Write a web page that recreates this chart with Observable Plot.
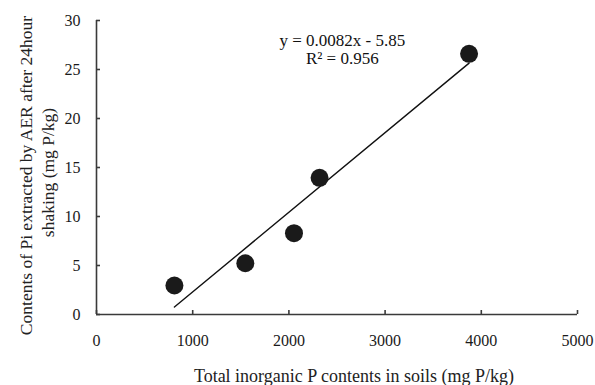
<!DOCTYPE html>
<html>
<head>
<meta charset="utf-8">
<script src="https://cdn.jsdelivr.net/npm/d3@7"></script>
<script src="https://cdn.jsdelivr.net/npm/@observablehq/plot@0.6"></script>
<style>
  html, body { margin: 0; padding: 0; background: #fff; }
</style>
</head>
<body>
<div id="chart"></div>
<script>
const totalInorganicP = [810, 1547, 2053, 2319, 3873];
const extractedPi = [2.96, 5.23, 8.3, 13.95, 26.6];
const xTicks = [0, 1000, 2000, 3000, 4000, 5000];
const yTicks = [0, 5, 10, 15, 20, 25, 30];
const equationLines = ["y = 0.0082x - 5.85", "R² = 0.956"];
const xTitle = "Total inorganic P contents in soils (mg P/kg)";
const yTitleLines = ["Contents of Pi extracted by AER after 24hour", "shaking (mg P/kg)"];

const data = totalInorganicP.map((x, i) => ({x, y: extractedPi[i]}));
const axisColor = "#3a3a3a";
const font = "'Liberation Serif', 'Times New Roman', serif";

const chart = Plot.plot({
  width: 595,
  height: 385,
  marginLeft: 96,
  marginRight: 18,
  marginTop: 20,
  marginBottom: 71,
  style: {fontFamily: font, fontSize: "16px", color: "#1a1a1a", background: "#fff"},
  x: {domain: [0, 5000], ticks: xTicks, tickFormat: d => String(d)},
  y: {domain: [0, 30], ticks: yTicks, tickFormat: d => String(d)},
  marks: [
    Plot.ruleY([0], {stroke: axisColor, strokeWidth: 1.6}),
    Plot.ruleX([0], {stroke: axisColor, strokeWidth: 1.6}),
    Plot.axisX(xTicks, {tickSize: -4, tickPadding: 24, stroke: axisColor, strokeWidth: 1.6, fontSize: 16, label: null, tickFormat: d => String(d)}),
    Plot.axisY(yTicks, {tickSize: -4, tickPadding: 20, stroke: axisColor, strokeWidth: 1.6, fontSize: 16, label: null, tickFormat: d => String(d)}),
    Plot.linearRegressionY(data, {x: "x", y: "y", ci: 0, stroke: "#111", strokeWidth: 1.4}),
    Plot.dot(data, {x: "x", y: "y", r: 9, fill: "#1a1a1a", stroke: "none"}),
    Plot.text([equationLines.join("\n")], {x: 2555, y: 27.05, text: d => d, fontSize: 17, lineHeight: 1.06, fill: "#111"}),
    Plot.text([xTitle], {frameAnchor: "bottom", dx: 17, dy: 62, lineAnchor: "middle", text: d => d, fontSize: 18, fill: "#222"}),
    Plot.text([yTitleLines[0]], {frameAnchor: "left", textAnchor: "middle", lineAnchor: "middle", dx: -70, dy: 8, text: d => d, rotate: -90, fontSize: 17.5, fill: "#222"}),
    Plot.text([yTitleLines[1]], {frameAnchor: "left", textAnchor: "middle", lineAnchor: "middle", dx: -48, dy: 5, text: d => d, rotate: -90, fontSize: 17.5, fill: "#222"})
  ]
});
document.getElementById("chart").appendChild(chart);
</script>
</body>
</html>
